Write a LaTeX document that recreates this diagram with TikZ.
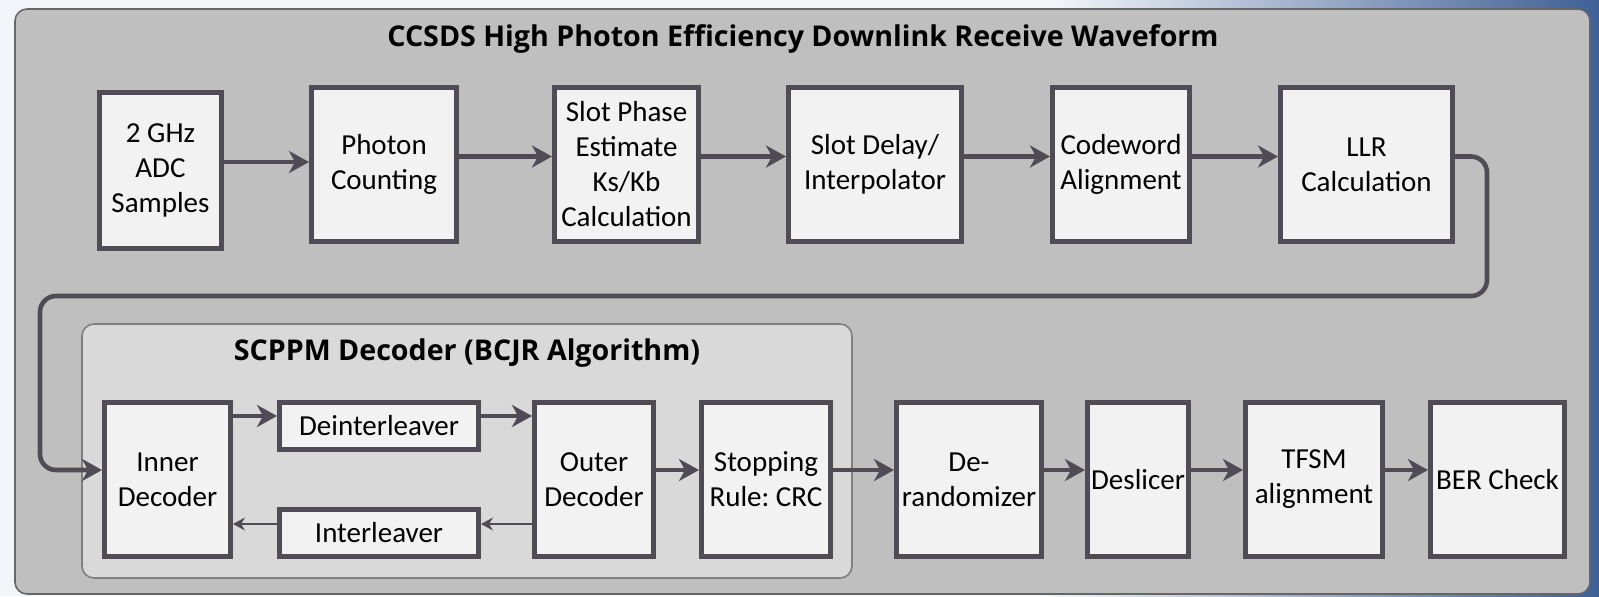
\documentclass[tikz,border=0pt]{standalone}
\usepackage{fontspec}
\setmainfont{Carlito}
\newfontfamily\ttlfont{Open Sans}
\usetikzlibrary{arrows.meta}
\frenchspacing

\definecolor{boxline}{HTML}{4F4C55}
\definecolor{boxfill}{HTML}{F2F2F2}
\definecolor{outerfill}{HTML}{BFBFBF}
\definecolor{outerline}{HTML}{666666}
\definecolor{grpfill}{HTML}{D9D9D9}
\definecolor{grpline}{HTML}{7F7F7F}
\definecolor{bgpale}{HTML}{F2F6FA}
\definecolor{bgblue}{HTML}{3F5F95}

\tikzset{
  blk/.style={draw=boxline, fill=boxfill, line width=2.5pt, align=center, inner sep=0pt,
    font=\fontsize{14.5}{17.5}\selectfont},
  ttl/.style={font=\ttlfont\bfseries\fontsize{14.3}{17}\selectfont},
  thk/.style={draw=boxline, line width=2.3pt, -{Stealth[length=10pt,width=11pt,inset=3pt]}},
  thn/.style={draw=boxline, line width=0.8pt, -{Stealth[length=6pt,width=6.5pt,inset=2pt]}},
}

\begin{document}
\begin{tikzpicture}[x=0.5pt, y=-0.5pt]
\useasboundingbox (0,0) rectangle (1599,596);

% background
\fill[bgpale] (0,0) rectangle (1599,596);
\shade[left color=bgpale, right color=bgblue] (1050,0) rectangle (1599,596);

% waveform frame
\draw[fill=outerfill, draw=outerline, line width=0.8pt, rounded corners=6pt] (15,9) rectangle (1590,594);
\node[ttl] (wf) at (803,39) {CCSDS High Photon Efficiency Downlink Receive Waveform};

% decoder frame
\draw[fill=grpfill, draw=grpline, line width=0.8pt, rounded corners=6pt] (82,324) rectangle (852,578);
\node[ttl] (dec) at (467,353) {SCPPM Decoder (BCJR Algorithm)};

% top row
\node[blk, minimum width=61pt, minimum height=78pt] (adc) at (160.5,170.5) {2 GHz\\ADC\\Samples};
\node[blk, minimum width=72.5pt, minimum height=77pt] (pc) at (384,164.5) {Photon\\Counting};
\node[blk, minimum width=72pt, minimum height=77pt] (spe) at (626.5,164.5) {Slot Phase\\Estimate\\Ks/Kb\\Calculation};
\node[blk, minimum width=86.5pt, minimum height=77pt] (sdi) at (875,164.5) {Slot Delay/\\Interpolator};
\node[blk, minimum width=68.5pt, minimum height=77pt] (cwa) at (1121,164.5) {Codeword\\Alignment};
\node[blk, minimum width=86pt, minimum height=77pt] (llr) at (1366.5,164.5) {LLR\\Calculation};

% bottom row
\node[blk, minimum width=63pt, minimum height=77pt] (inner) at (167.5,479.5) {Inner\\Decoder};
\node[blk, minimum width=99.5pt, minimum height=23.5pt] (deint) at (379,426) {Deinterleaver};
\node[blk, minimum width=99.5pt, minimum height=23.5pt] (inter) at (379,532.5) {Interleaver};
\node[blk, minimum width=59.5pt, minimum height=77pt] (outer) at (594,479.5) {Outer\\Decoder};
\node[blk, minimum width=64.5pt, minimum height=77pt] (stop) at (766,479.5) {Stopping\\Rule: CRC};
\node[blk, minimum width=72.5pt, minimum height=77pt] (derand) at (969,479.5) {De-\\randomizer};
\node[blk, minimum width=50.5pt, minimum height=77pt] (desl) at (1138,479.5) {Deslicer};
\node[blk, minimum width=68.5pt, minimum height=77pt] (tfsm) at (1314,479.5) {TFSM\\alignment};
\node[blk, minimum width=67pt, minimum height=77pt] (ber) at (1497.5,479.5) {BER Check};

% top arrows
\draw[thk] ([yshift=4.25pt]adc.east) -- ([yshift=1.25pt]pc.west);
\foreach \a/\b in {pc/spe, spe/sdi, sdi/cwa, cwa/llr}
  \draw[thk] ([yshift=4pt]\a.east) -- ([yshift=4pt]\b.west);

% loop back to decoder
\coordinate (lpR) at (1487,296);
\coordinate (lpL) at (40,470);
\draw[thk, rounded corners=8pt] ([yshift=4pt]llr.east) -| (lpR) -| (lpL) -- ([yshift=4.75pt]inner.west);

% iterations
\draw[thk] ([yshift=31.75pt]inner.east) -- ([yshift=5pt]deint.west);
\draw[thk] ([yshift=5pt]deint.east) -- ([yshift=31.75pt]outer.west);
\draw[thn] ([yshift=-22.25pt]outer.west) -- ([yshift=4.25pt]inter.east);
\draw[thn] ([yshift=4.25pt]inter.west) -- ([yshift=-22.25pt]inner.east);

% bottom arrows
\foreach \a/\b in {outer/stop, stop/derand, derand/desl, desl/tfsm, tfsm/ber}
  \draw[thk] ([yshift=4.75pt]\a.east) -- ([yshift=4.75pt]\b.west);

\end{tikzpicture}
\end{document}
